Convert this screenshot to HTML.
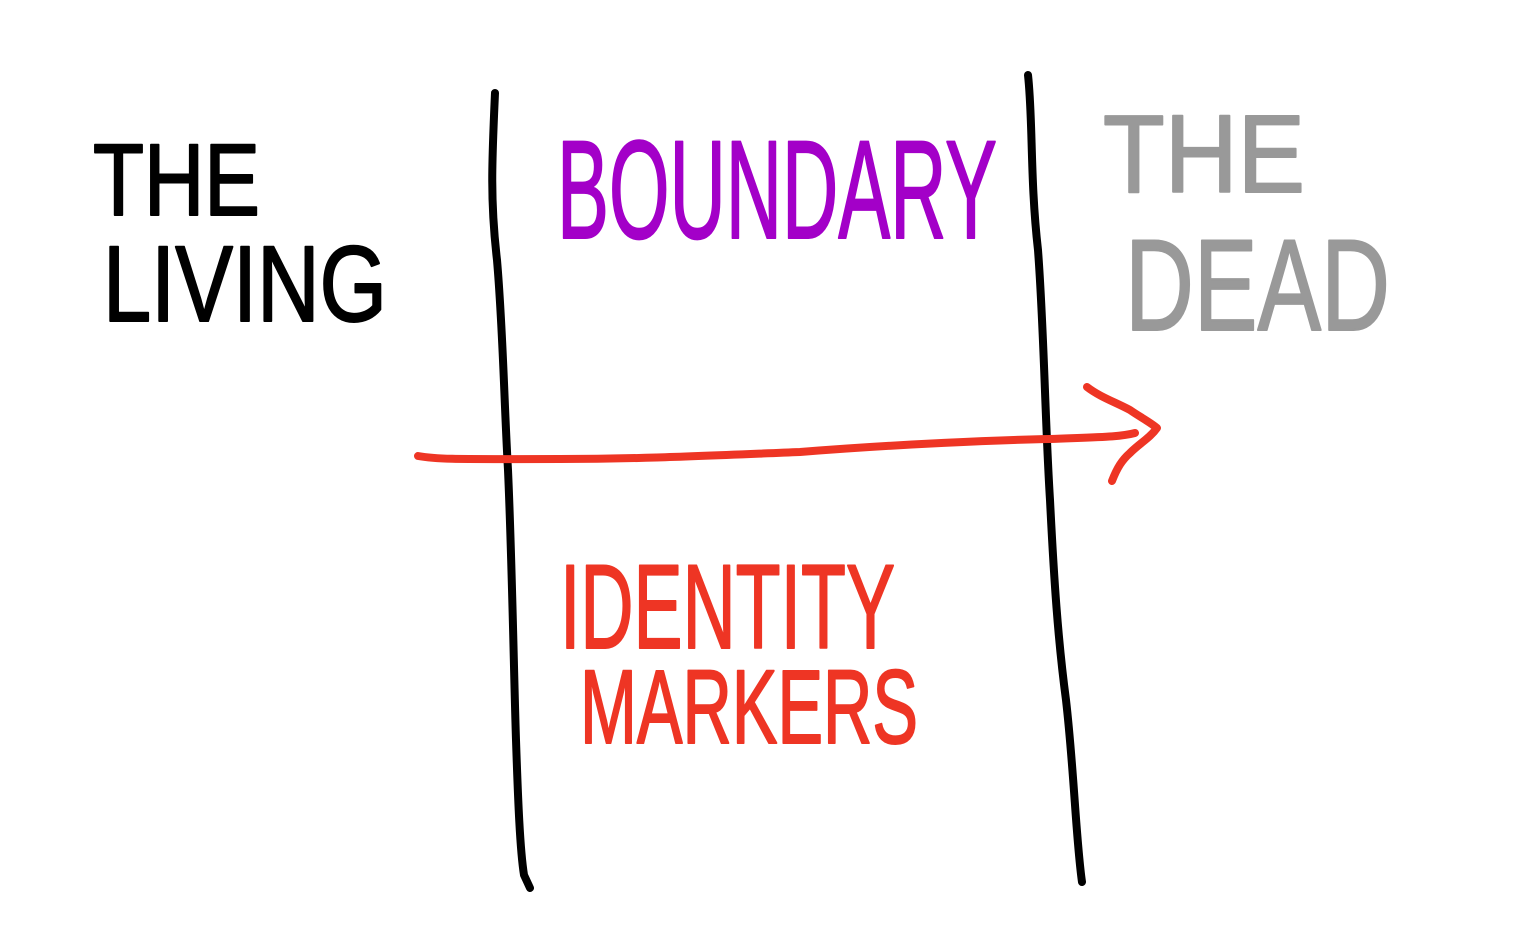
<!DOCTYPE html>
<html><head><style>
html,body{margin:0;padding:0;background:#fff;}
svg{display:block;}
text{font-family:"Liberation Sans",sans-serif;stroke-width:2;stroke-linejoin:round;}
</style></head><body>
<svg width="1536" height="949" viewBox="0 0 1536 949" xmlns="http://www.w3.org/2000/svg">
<g fill="none" stroke-linecap="round" stroke-linejoin="round">
<path d="M495,93 C492,160 490,200 497,260 C503,330 504,400 508,470 C512,560 514,680 516,740 C518,800 520,850 524,875 L530,888" stroke="#000" stroke-width="8"/>
<path d="M1028,75 C1033,120 1030,180 1038,250 C1044,330 1045,420 1050,500 C1054,580 1058,640 1066,700 C1074,770 1076,840 1082,882" stroke="#000" stroke-width="8"/>
<path d="M418,456 C440,460 470,459 560,459 C640,459 700,456 800,452 C900,444 1000,440 1050,439 C1100,437 1120,437 1135,433" stroke="#ee3524" stroke-width="8"/>
<path d="M1087,387 C1100,397 1115,402 1130,410 C1140,417 1150,422 1157,428 C1150,438 1140,443 1130,453 C1122,460 1117,468 1112,481" stroke="#ee3524" stroke-width="8"/>
</g>
<g>
<text x="93" y="215" font-size="102" fill="#000" stroke="#000" textLength="167" lengthAdjust="spacingAndGlyphs">THE</text>
<text x="103" y="321" font-size="108" fill="#000" stroke="#000" textLength="284" lengthAdjust="spacingAndGlyphs">LIVING</text>
<text x="557" y="238" font-size="140" fill="#a300c8" stroke="#a300c8" textLength="440" lengthAdjust="spacingAndGlyphs">BOUNDARY</text>
<text x="1103" y="192" font-size="110" fill="#999" stroke="#999" textLength="202" lengthAdjust="spacingAndGlyphs">THE</text>
<text x="1125" y="330" font-size="130" fill="#999" stroke="#999" textLength="265" lengthAdjust="spacingAndGlyphs">DEAD</text>
<text x="560" y="648" font-size="120" fill="#ee3524" stroke="#ee3524" textLength="335" lengthAdjust="spacingAndGlyphs">IDENTITY</text>
<text x="580" y="743" font-size="105" fill="#ee3524" stroke="#ee3524" textLength="338" lengthAdjust="spacingAndGlyphs">MARKERS</text>
</g>
</svg>
</body></html>
